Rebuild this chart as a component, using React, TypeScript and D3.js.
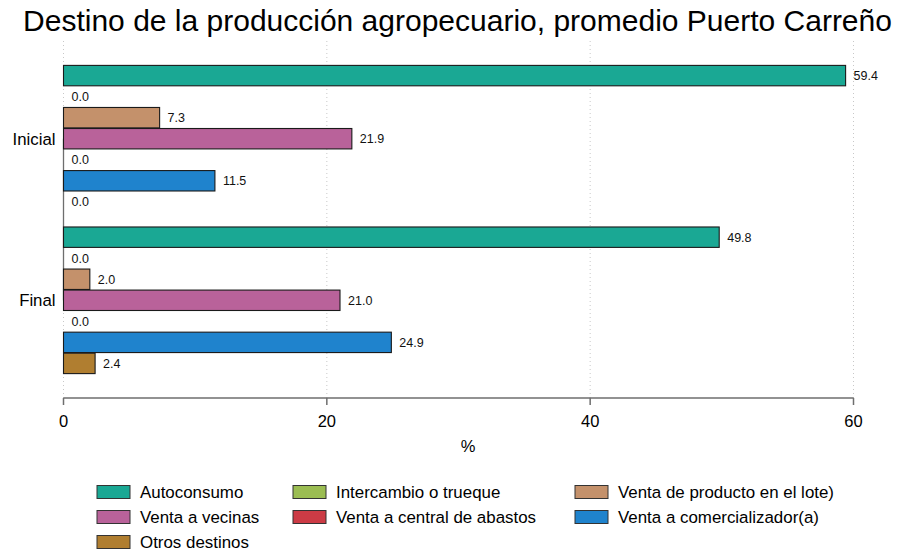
import React from "react";
import * as d3 from "d3";

const groups = ["Inicial", "Final"];
const series = [
  "Autoconsumo",
  "Intercambio o trueque",
  "Venta de producto en el lote)",
  "Venta a vecinas",
  "Venta a central de abastos",
  "Venta a comercializador(a)",
  "Otros destinos",
];
const inicialValues = [59.4, 0.0, 7.3, 21.9, 0.0, 11.5, 0.0];
const finalValues = [49.8, 0.0, 2.0, 21.0, 0.0, 24.9, 2.4];
const colors = ["#1aa894", "#9bbd52", "#c4916b", "#b9629a", "#cc3b45", "#1f83cd", "#b07e30"];
const xTicks = [0, 20, 40, 60];
const title = "Destino de la producción agropecuario, promedio Puerto Carreño";

const W = 899;
const H = 552;
const FONT = "'Liberation Sans', Arial, Helvetica, sans-serif";

export default function App() {
  const left = 63.5;
  const right = 853.5;
  const top = 41;
  const bottom = 398;

  const x = d3.scaleLinear().domain([0, 60]).range([left, right]);
  const yGroup = d3
    .scaleBand<string>()
    .domain(groups)
    .range([top, bottom])
    .paddingInner(0.0926)
    .paddingOuter(0.151);
  const ySeries = d3
    .scaleBand<string>()
    .domain(series)
    .range([0, yGroup.bandwidth()])
    .paddingInner(0.03)
    .paddingOuter(0);

  const data = [
    { group: "Inicial", values: inicialValues },
    { group: "Final", values: finalValues },
  ];

  const legendCols = [97, 293, 575];
  const legendRows = [492, 517, 542];

  return (
    <svg width={W} height={H} style={{ display: "block", position: "absolute", left: 0, top: 0 }} fontFamily={FONT}>
      <rect x={0} y={0} width={W} height={H} fill="#ffffff" />
      <text x={457.5} y={31} textAnchor="middle" fontSize={30} fill="#000">
        {title}
      </text>
      {xTicks.map((t) => (
        <line
          key={"g" + t}
          x1={x(t)}
          x2={x(t)}
          y1={top}
          y2={bottom}
          stroke="#c8c8c8"
          strokeWidth={1}
          strokeDasharray="1,3"
        />
      ))}
      {/* y axis line between category ticks */}
      <line
        x1={left}
        x2={left}
        y1={(yGroup("Inicial") as number) + yGroup.bandwidth() / 2}
        y2={(yGroup("Final") as number) + yGroup.bandwidth() / 2}
        stroke="#6e6e6e"
        strokeWidth={1.3}
      />
      {data.map((d) => (
        <g key={d.group} transform={`translate(0,${yGroup(d.group)})`}>
          {d.values.map((v, i) => {
            const yy = ySeries(series[i]) as number;
            const bh = ySeries.bandwidth();
            return (
              <g key={i}>
                {v > 0 && (
                  <rect
                    x={x(0)}
                    y={yy}
                    width={x(v) - x(0)}
                    height={bh}
                    fill={colors[i]}
                    stroke="#1a1a1a"
                    strokeWidth={1.1}
                  />
                )}
                <text
                  x={x(v) + 8}
                  y={yy + bh / 2}
                  dy="0.35em"
                  fontSize={12.5}
                  fill="#111"
                >
                  {v.toFixed(1)}
                </text>
              </g>
            );
          })}
          <text
            x={left - 8}
            y={yGroup.bandwidth() / 2}
            dy="0.35em"
            textAnchor="end"
            fontSize={16.8}
            fill="#000"
          >
            {d.group}
          </text>
        </g>
      ))}
      {/* x axis */}
      <line x1={left} x2={right} y1={bottom} y2={bottom} stroke="#6e6e6e" strokeWidth={1.5} />
      {xTicks.map((t) => (
        <g key={"t" + t}>
          <line x1={x(t)} x2={x(t)} y1={bottom} y2={bottom + 7} stroke="#6e6e6e" strokeWidth={1.5} />
          <text x={x(t)} y={427} textAnchor="middle" fontSize={16.5} fill="#000">
            {t}
          </text>
        </g>
      ))}
      <text x={468} y={452} textAnchor="middle" fontSize={16.5} fill="#000">
        %
      </text>
      {/* legend */}
      {series.map((s, i) => {
        const col = i % 3;
        const row = Math.floor(i / 3);
        const lx = legendCols[col];
        const ly = legendRows[row];
        return (
          <g key={s}>
            <rect x={lx} y={ly - 6.5} width={33} height={13} fill={colors[i]} stroke="#333" strokeWidth={1} />
            <text x={lx + 43} y={ly} dy="0.35em" fontSize={16.9} fill="#000">
              {s}
            </text>
          </g>
        );
      })}
    </svg>
  );
}
